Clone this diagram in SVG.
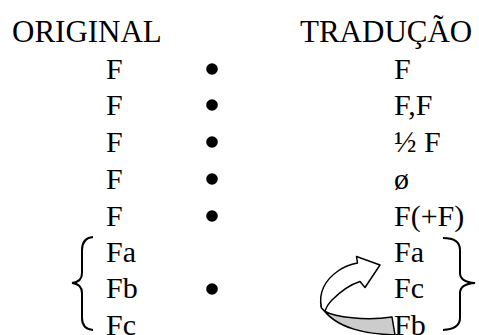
<svg xmlns="http://www.w3.org/2000/svg" width="479" height="335" viewBox="0 0 479 335">
<defs>
<style>
.b{fill:#000}
.br{fill:none;stroke:#000;stroke-width:2}
.ar{stroke:#000;stroke-width:1.5;stroke-linejoin:round}
</style>
</defs>
<rect width="479" height="335" fill="#fff"/>
<g id="headers">
<text x="12" y="42" font-size="31" font-family="Liberation Serif">ORIGINAL</text>
<text x="300" y="42" font-size="31" font-family="Liberation Serif">TRADUÇÃO</text>
</g>
<g id="original">
<text x="106" y="79" font-size="30" font-family="Liberation Serif">F</text>
<text x="106" y="115" font-size="30" font-family="Liberation Serif">F</text>
<text x="106" y="152" font-size="30" font-family="Liberation Serif">F</text>
<text x="106" y="189" font-size="30" font-family="Liberation Serif">F</text>
<text x="106" y="226" font-size="30" font-family="Liberation Serif">F</text>
<text x="106" y="262" font-size="30" font-family="Liberation Serif">Fa</text>
<text x="106" y="298" font-size="30" font-family="Liberation Serif">Fb</text>
<text x="106" y="334.5" font-size="30" font-family="Liberation Serif">Fc</text>
</g>
<g id="bullets">
<circle class="b" cx="212" cy="69" r="5.8"/>
<circle class="b" cx="212" cy="105" r="5.8"/>
<circle class="b" cx="212" cy="142" r="5.8"/>
<circle class="b" cx="212" cy="179" r="5.8"/>
<circle class="b" cx="212" cy="216" r="5.8"/>
<circle class="b" cx="212" cy="289" r="5.8"/>
</g>
<g id="traducao">
<text x="394" y="79" font-size="30" font-family="Liberation Serif">F</text>
<text x="394" y="115" font-size="30" font-family="Liberation Serif">F,F</text>
<text x="394" y="152" font-size="30" font-family="Liberation Serif">½ F</text>
<text x="394" y="189" font-size="30" font-family="Liberation Serif">ø</text>
<text x="394" y="226" font-size="30" font-family="Liberation Serif">F(+F)</text>
<text x="394" y="262" font-size="30" font-family="Liberation Serif">Fa</text>
<text x="394" y="298" font-size="30" font-family="Liberation Serif">Fc</text>
<text x="394" y="334.5" font-size="30" font-family="Liberation Serif">Fb</text>
</g>
<g id="braces">
<path class="br" d="M93,237 Q82,238 82,250 L82,273 Q82,282 72,283 Q82,284 82,293 L82,318 Q82,329 93,330"/>
<path class="br" d="M443,238 Q460,238 460,250 L460,273 Q460,282 475,283 Q460,284 460,293 L460,318 Q460,329 443,330"/>
</g>
<g id="connectors">
<path class="ar" fill="#cccccc" d="M395,335 C370,334 335,330 321,306 L325,311.5 C335,317 365,321 392,317 Z"/>
<path class="ar" fill="#ffffff" d="M321.5,308 C318,293 325,280 338,271 C345,266 352,264 357.5,263 L356.5,256.5 L380,265 L365,287.5 L360,281.5 C352,284 342,290 332,300 C328,304 326,308 325,311.5 Z"/>
</g>
</svg>
